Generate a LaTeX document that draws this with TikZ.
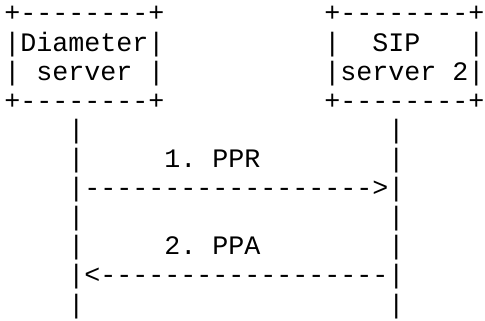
\documentclass[tikz,border=0pt]{standalone}
\usepackage{fontspec}
\setmonofont{Liberation Mono}
\tikzset{
  ascii/.style={font=\ttfamily\fontsize{13.33pt}{14.55pt}\selectfont,
    inner sep=0pt, anchor=base west},
}
\begin{document}
\begin{tikzpicture}[x=8pt,y=-14.55pt]
\useasboundingbox (-2pt,11pt) rectangle (240.5pt,-149pt);
% Diameter server box
\node[ascii] (dtop) at (0,0) {+--------+};
\node[ascii] (dname) at (0,1) {|Diameter|};
\node[ascii] (dserv) at (0,2) {|~server~|};
\node[ascii] (dbot) at (0,3) {+--------+};
% SIP server 2 box
\node[ascii] (stop) at (20,0) {+--------+};
\node[ascii] (sname) at (20,1) {|~~SIP~~~|};
\node[ascii] (sserv) at (20,2) {|server~2|};
\node[ascii] (sbot) at (20,3) {+--------+};
% lifelines
\foreach \r in {4,...,10} {
  \node[ascii] (dl\r) at (4,\r) {|};
  \node[ascii] (sl\r) at (24,\r) {|};
}
% messages
\node[ascii] (ppr) at (10,5) {1.~PPR};
\node[ascii] (pprarr) at (5,6) {------------------>};
\node[ascii] (ppa) at (10,8) {2.~PPA};
\node[ascii] (ppaarr) at (5,9) {<------------------};
\end{tikzpicture}
\end{document}
